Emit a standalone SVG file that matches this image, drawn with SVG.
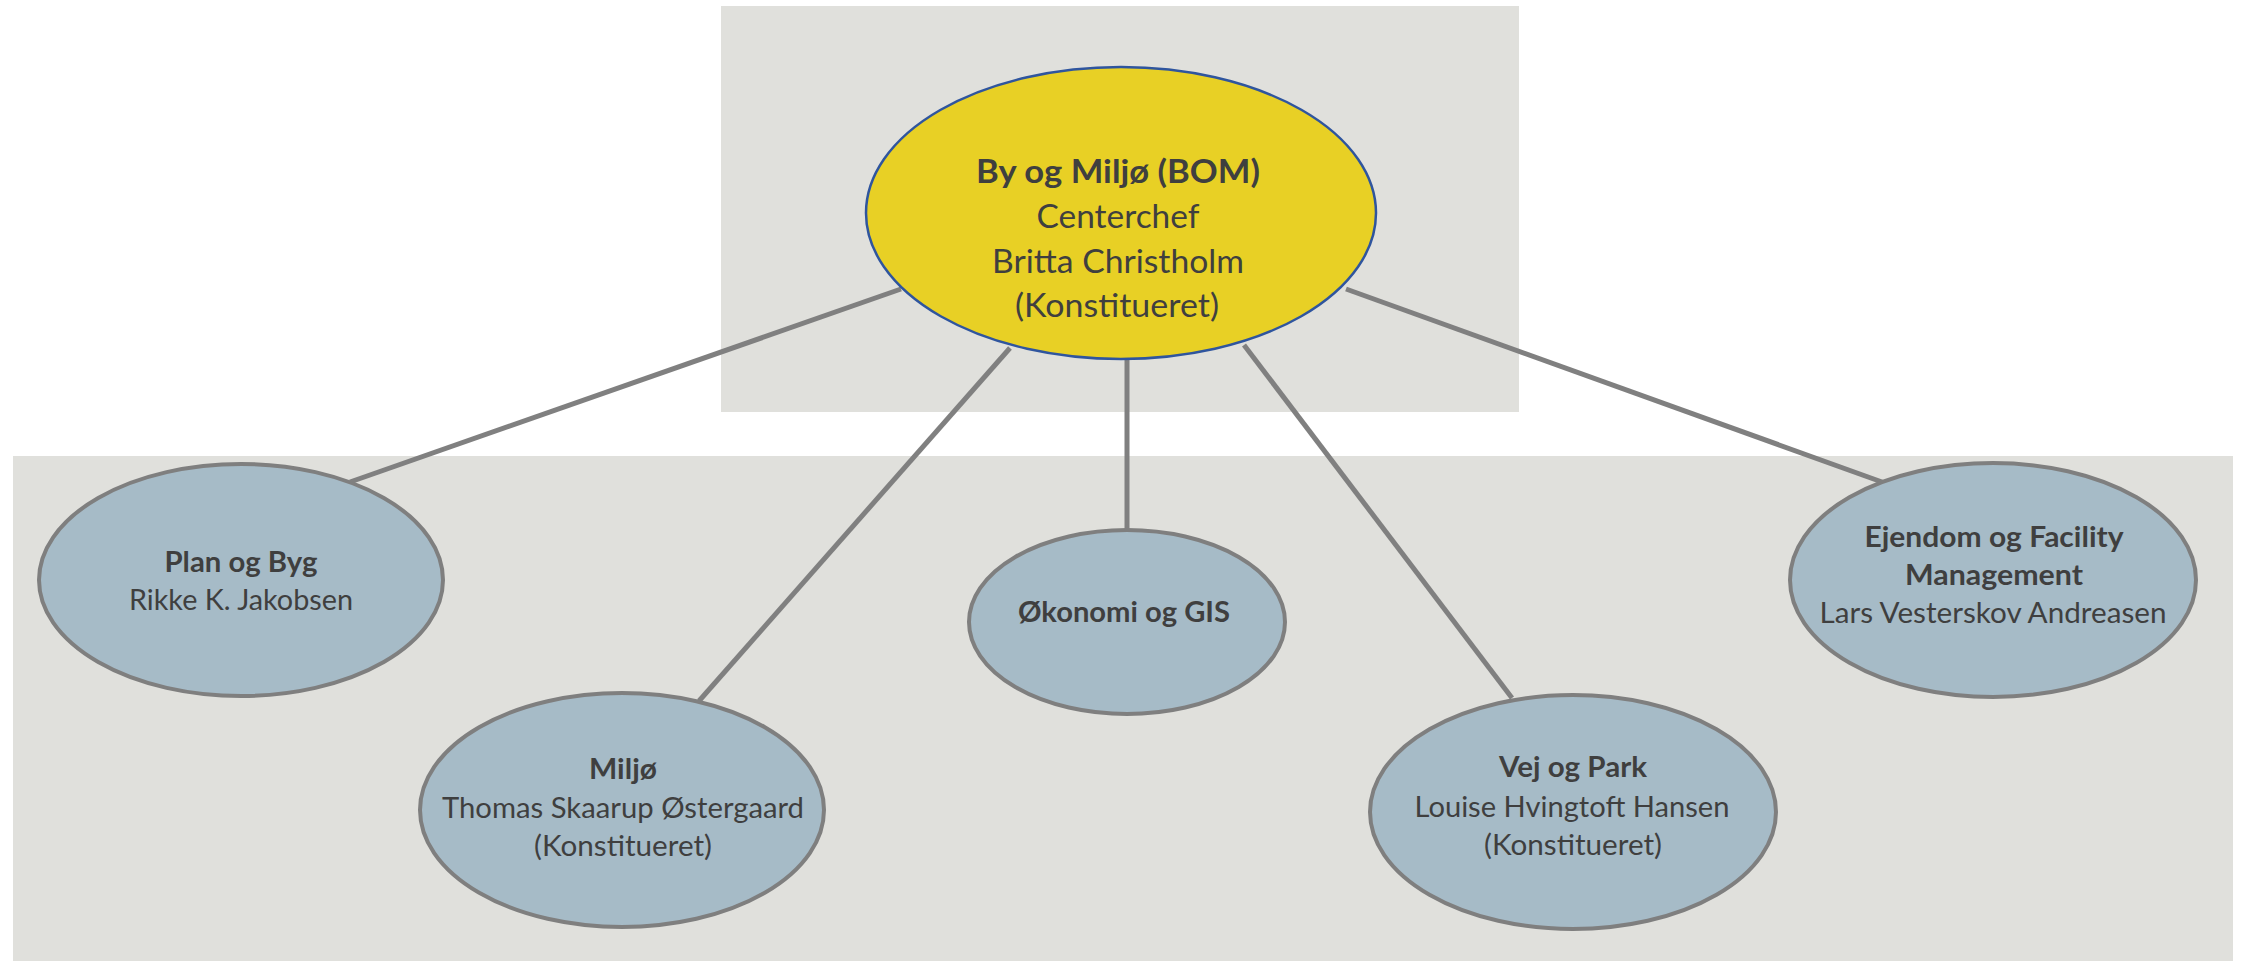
<svg xmlns="http://www.w3.org/2000/svg" width="2242" height="961" viewBox="0 0 2242 961">
<style>
.panel{fill:#E0E0DC}
.conn{stroke:#808080;stroke-width:5;fill:none}
.sub{fill:#A6BBC7;stroke:#7F7F7F;stroke-width:4}
.top{fill:#E8D025;stroke:#2F559E;stroke-width:2.5}
text{font-family:Lato,"Liberation Sans",sans-serif;fill:#3F3F3F;text-anchor:middle}
.b{font-weight:bold}
.t28{font-size:28px}
.t32{font-size:32px}
</style>
<rect width="2242" height="961" fill="#FFFFFF"/>
<rect class="panel" x="721" y="6" width="798" height="406"/>
<rect class="panel" x="13" y="456" width="2220" height="505"/>
<g id="connectors">
<line class="conn" x1="901" y1="289" x2="350" y2="482"/>
<line class="conn" x1="1010" y1="348" x2="699" y2="701"/>
<line class="conn" x1="1127" y1="360" x2="1127" y2="530"/>
<line class="conn" x1="1244" y1="345" x2="1512" y2="698"/>
<line class="conn" x1="1346" y1="289" x2="1882" y2="482"/>
</g>
<g id="bom">
<ellipse class="top" cx="1121" cy="213" rx="255" ry="146"/>
<text class="t32 b" x="1118" y="183" textLength="284" lengthAdjust="spacingAndGlyphs">By og Miljø (BOM)</text>
<text class="t32" x="1118" y="228" textLength="163" lengthAdjust="spacingAndGlyphs">Centerchef</text>
<text class="t32" x="1118" y="273" textLength="252" lengthAdjust="spacingAndGlyphs">Britta Christholm</text>
<text class="t32" x="1117" y="317" textLength="204" lengthAdjust="spacingAndGlyphs">(Konstitueret)</text>
</g>
<g id="plan-og-byg">
<ellipse class="sub" cx="241" cy="580" rx="202" ry="116"/>
<text class="t28 b" x="241" y="572" textLength="153" lengthAdjust="spacingAndGlyphs">Plan og Byg</text>
<text class="t28" x="241" y="610" textLength="224" lengthAdjust="spacingAndGlyphs">Rikke K. Jakobsen</text>
</g>
<g id="miljo">
<ellipse class="sub" cx="622" cy="810" rx="202" ry="117"/>
<text class="t28 b" x="623" y="779" textLength="68" lengthAdjust="spacingAndGlyphs">Miljø</text>
<text class="t28" x="623" y="818" textLength="362" lengthAdjust="spacingAndGlyphs">Thomas Skaarup Østergaard</text>
<text class="t28" x="623" y="856" textLength="178" lengthAdjust="spacingAndGlyphs">(Konstitueret)</text>
</g>
<g id="okonomi-og-gis">
<ellipse class="sub" cx="1127" cy="622" rx="158" ry="92"/>
<text class="t28 b" x="1124" y="622" textLength="212" lengthAdjust="spacingAndGlyphs">Økonomi og GIS</text>
</g>
<g id="vej-og-park">
<ellipse class="sub" cx="1573" cy="812" rx="203" ry="117"/>
<text class="t28 b" x="1573" y="777" textLength="148" lengthAdjust="spacingAndGlyphs">Vej og Park</text>
<text class="t28" x="1572" y="817" textLength="315" lengthAdjust="spacingAndGlyphs">Louise Hvingtoft Hansen</text>
<text class="t28" x="1573" y="855" textLength="178" lengthAdjust="spacingAndGlyphs">(Konstitueret)</text>
</g>
<g id="ejendom-og-facility-management">
<ellipse class="sub" cx="1993" cy="580" rx="203" ry="117"/>
<text class="t28 b" x="1994" y="547" textLength="259" lengthAdjust="spacingAndGlyphs">Ejendom og Facility</text>
<text class="t28 b" x="1994" y="585" textLength="178" lengthAdjust="spacingAndGlyphs">Management</text>
<text class="t28" x="1993" y="623" textLength="347" lengthAdjust="spacingAndGlyphs">Lars Vesterskov Andreasen</text>
</g>
</svg>
